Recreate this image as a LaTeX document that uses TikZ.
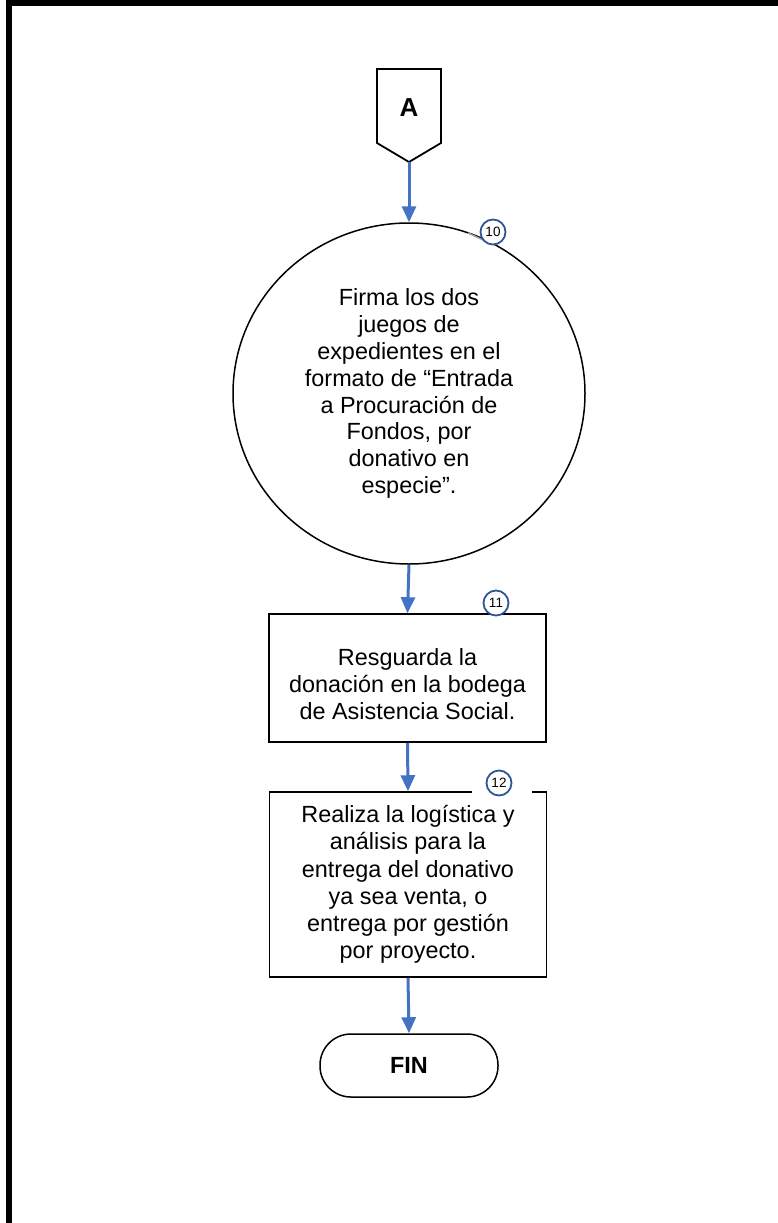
\documentclass[tikz,border=0pt]{standalone}
\usepackage{fontspec}
\setmainfont{Liberation Sans}
\usetikzlibrary{arrows.meta,shapes.geometric}
\definecolor{arrowblue}{HTML}{4472C4}
\definecolor{badgeblue}{HTML}{2F5597}
\begin{document}
\begin{tikzpicture}[x=1pt,y=-1pt,
  proc/.style={draw=black, line width=1.5pt, fill=white, minimum width=277pt, align=center, font=\fontsize{23.4}{27.2}\selectfont, inner sep=0pt},
  flow/.style={draw=arrowblue, line width=3pt, -{Triangle[length=16pt,width=14pt]}},
  badge/.style={circle, draw=badgeblue, line width=1.8pt, fill=white, minimum size=25pt, inner sep=0pt, font=\fontsize{13.5}{13.5}\selectfont},
  bigtext/.style={align=center, font=\fontsize{23.4}{26.9}\selectfont}]
\useasboundingbox (0,0) rectangle (778,1223);
\fill[white] (0,0) rectangle (778,1223);
\begin{scope}
\clip (0,0) rectangle (778,1223);
\draw[line width=6pt] (9,3) -- (800,3);
\draw[line width=6pt] (9,0) -- (9,1240);
\end{scope}
% off-page connector A
\draw[line width=1.8pt, line join=miter] (377,69) -- (441,69) -- (441,143) -- (409,162) -- (377,143) -- cycle;
\node[font=\fontsize{26}{26}\selectfont\bfseries] (A) at (409,108) {A};
\coordinate (Atip) at (409,162);
% step 10
\node[ellipse, draw=black, line width=1.5pt, fill=white, minimum width=352pt, minimum height=341pt, inner sep=0pt, bigtext] (n10) at (409,393.5)
  {Firma los dos\\juegos de\\expedientes en el\\formato de “Entrada\\a Procuración de\\Fondos, por\\donativo en\\especie”.};
\draw[gray!70, line width=1.5pt] (468,233) -- (483,240);
\node[badge] (k10) at (493,232) {10};
% step 11
\node[proc, minimum height=128pt] (n11) at (407.5,678) {};
\node[bigtext] (t11) at (407.5,684.5) {Resguarda la\\donación en la bodega\\de Asistencia Social.};
\node[badge] (k11) at (496,603) {11};
% step 12
\node[proc, minimum height=185pt] (n12) at (408,884.5) {Realiza la logística y\\análisis para la\\entrega del donativo\\ya sea venta, o\\entrega por gestión\\por proyecto.};
\fill[white] (472,789) rectangle (532,795.5);
\node[badge] (k12) at (499,783) {12};
% end
\node[draw=black, line width=1.5pt, rounded corners=31pt, minimum width=178pt, minimum height=63pt, font=\fontsize{23.4}{23.4}\selectfont\bfseries] (fin) at (409,1065.5) {FIN};
% connectors
\draw[flow] (Atip) -- (n10.north);
\draw[flow] (n10.south) -- (n11.north);
\draw[flow] (n11.south) -- (n12.north);
\draw[flow] (n12.south) -- (fin.north);
\end{tikzpicture}
\end{document}
